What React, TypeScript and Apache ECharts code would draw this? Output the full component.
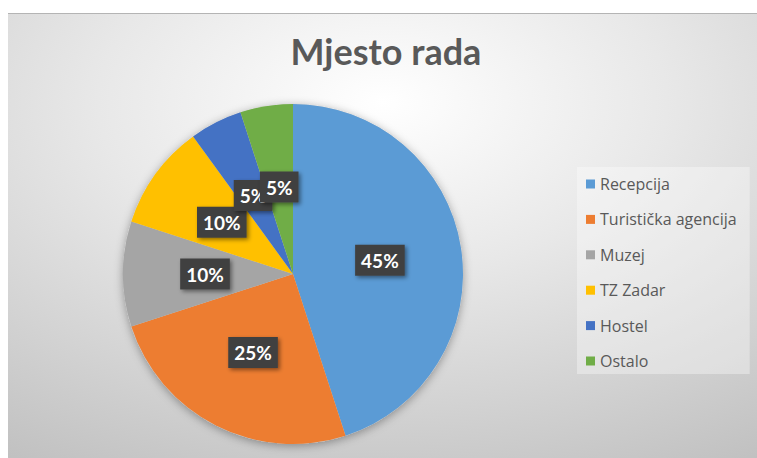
import React, { useEffect, useRef } from "react";
import * as echarts from "echarts";

const TITLE = "Mjesto rada";
const categories = ["Recepcija", "Turistička agencija", "Muzej", "TZ Zadar", "Hostel", "Ostalo"];
const values = [45, 25, 10, 10, 5, 5];
const colors = ["#5B9BD5", "#ED7D31", "#A5A5A5", "#FFC000", "#4472C4", "#70AD47"];

const FONT = "Lato, 'Open Sans', sans-serif";
const LEGEND_FONT = "'Open Sans', Lato, sans-serif";

export default function App() {
  const ref = useRef<HTMLDivElement>(null);
  useEffect(() => {
    document.body.style.margin = "0";
    const chart = echarts.init(ref.current!, null, { renderer: "svg" });
    const option = {
      animation: false,
      backgroundColor: "#ffffff",
      graphic: [
        {
          type: "rect",
          z: -10,
          silent: true,
          shape: { x: 8, y: 13, width: 749, height: 445 },
          style: {
            fill: new echarts.graphic.RadialGradient(0.5, 0.2, 0.95, [
              { offset: 0, color: "#ffffff" },
              { offset: 0.4, color: "#e8e8e8" },
              { offset: 1, color: "#c0c0c0" },
            ]),
          },
        },
        {
          type: "line",
          z: -9,
          silent: true,
          shape: { x1: 8, y1: 13.5, x2: 757, y2: 13.5 },
          style: { stroke: "#b4b4b4", lineWidth: 1 },
        },
      ],
      title: {
        text: TITLE,
        left: 381,
        top: 28,
        textAlign: "center",
        textStyle: {
          fontFamily: FONT,
          fontWeight: "bold",
          fontSize: 36,
          color: "#595959",
        },
      },
      legend: {
        orient: "vertical",
        left: 577,
        top: 167,
        data: categories,
        backgroundColor: "rgba(255,255,255,0.35)",
        padding: [7, 13, 3, 9],
        itemWidth: 9,
        itemHeight: 9,
        itemGap: 15.4,
        icon: "rect",
        textStyle: {
          fontFamily: LEGEND_FONT,
          fontSize: 16,
          lineHeight: 20,
          color: "#595959",
        },
      },
      series: [
        {
          type: "pie",
          silent: true,
          center: [293, 274],
          radius: 170,
          z: 1,
          label: { show: false },
          labelLine: { show: false },
          itemStyle: {
            color: "#d0d0d0",
            shadowBlur: 10,
            shadowColor: "rgba(0,0,0,0.35)",
            shadowOffsetY: 2,
          },
          data: [{ value: 1, name: "__bg" }],
          tooltip: { show: false },
        },
        {
          type: "pie",
          center: [293, 274],
          radius: 170,
          z: 2,
          startAngle: 90,
          clockwise: true,
          avoidLabelOverlap: false,
          labelLayout: { hideOverlap: false },
          itemStyle: { borderWidth: 0 },
          label: {
            show: true,
            position: "inside",
            formatter: "{d}%",
            color: "#ffffff",
            fontFamily: FONT,
            fontWeight: "bold",
            fontSize: 19,
            backgroundColor: "#404040",
            padding: [7, 6, 5, 6],
            shadowBlur: 4,
            shadowColor: "rgba(0,0,0,0.45)",
            shadowOffsetX: 2,
            shadowOffsetY: 2,
          },
          labelLine: { show: false },
          data: categories.map((name, i) => ({
            name,
            value: values[i],
            itemStyle: { color: colors[i] },
          })),
        },
      ],
    };
    chart.setOption(option as any);
    return () => chart.dispose();
  }, []);
  return (
    <div
      ref={ref}
      style={{ position: "absolute", left: 0, top: 0, width: 757, height: 458 }}
    />
  );
}
